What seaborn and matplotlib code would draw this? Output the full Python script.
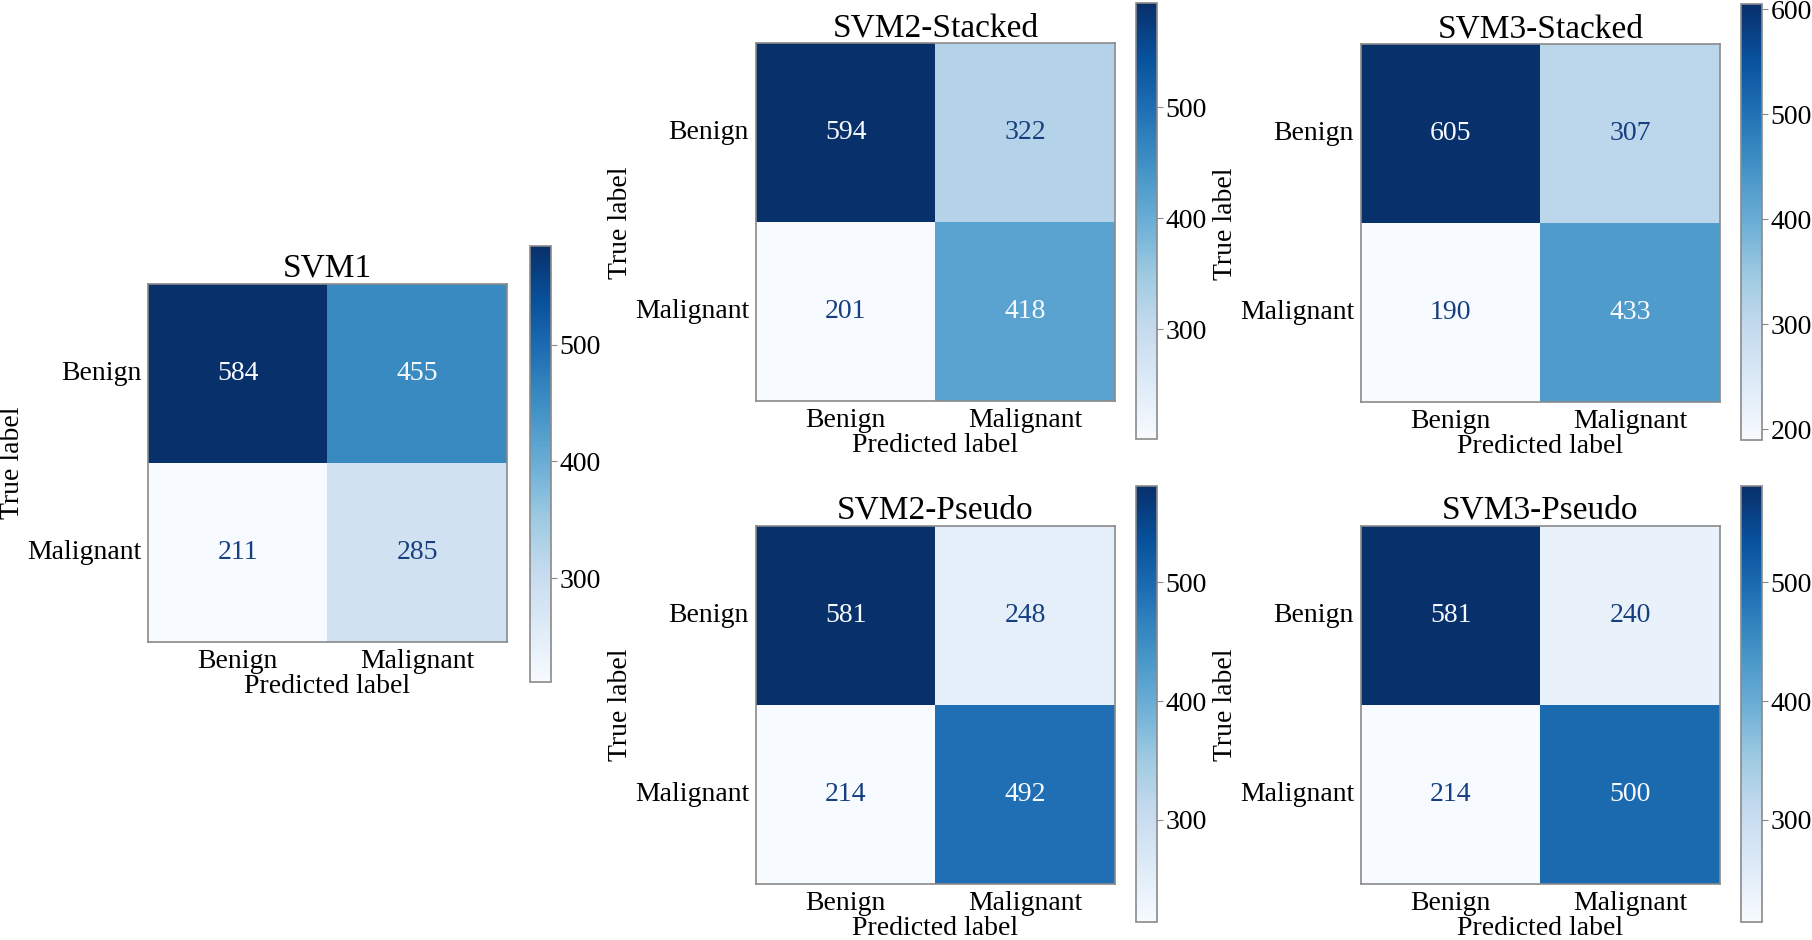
import numpy as np
import matplotlib
matplotlib.use("Agg")
import matplotlib.pyplot as plt
import seaborn as sns

# Confusion matrices (rows = true label, cols = predicted label)
labels = ["Benign", "Malignant"]
titles = ["SVM1", "SVM2-Stacked", "SVM3-Stacked", "SVM2-Pseudo", "SVM3-Pseudo"]
svm1 = [[584, 455], [211, 285]]
svm2_stacked = [[594, 322], [201, 418]]
svm3_stacked = [[605, 307], [190, 433]]
svm2_pseudo = [[581, 248], [214, 492]]
svm3_pseudo = [[581, 240], [214, 500]]
matrices = [svm1, svm2_stacked, svm3_stacked, svm2_pseudo, svm3_pseudo]

sns.set_style("white")
plt.rcParams['font.family'] = ['Liberation Serif', 'DejaVu Serif']
plt.rcParams['text.color'] = 'black'
plt.rcParams['axes.labelcolor'] = 'black'
plt.rcParams['xtick.labelcolor'] = 'black'
plt.rcParams['ytick.labelcolor'] = 'black'

fig = plt.figure(figsize=(18.12, 9.40), dpi=100)

# axes / colorbar boxes in figure fractions
W, H = 0.198, 0.381
CW, CH = 0.0116, 0.464
boxes = [
    ((0.0817, 0.317), (0.2925, 0.274)),
    ((0.4172, 0.573), (0.6270, 0.533)),
    ((0.7511, 0.572), (0.9608, 0.532)),
    ((0.4172, 0.0596), (0.6270, 0.019)),
    ((0.7511, 0.0596), (0.9608, 0.019)),
]

cmap = plt.get_cmap("Blues")
edge = "#8a8a8a"

for title, mat, (axpos, cpos) in zip(titles, matrices, boxes):
    data = np.array(mat)
    ax = fig.add_axes([axpos[0], axpos[1], W, H])
    cax = fig.add_axes([cpos[0], cpos[1], CW, CH])
    sns.heatmap(data, ax=ax, cbar_ax=cax, cmap="Blues", annot=True, fmt="d",
                annot_kws={"fontsize": 20}, xticklabels=labels, yticklabels=labels,
                vmin=data.min(), vmax=data.max())
    # sklearn-style text colours
    thresh = (data.max() + data.min()) / 2.0
    for t, v in zip(ax.texts, data.flatten()):
        t.set_color(cmap(0.0) if v >= thresh else "#173f80")
    ax.set_title(title, fontsize=24, pad=5, color="black")
    ax.set_xlabel("Predicted label", fontsize=20, labelpad=0, color="black")
    ax.set_ylabel("True label", fontsize=20, labelpad=1, color="black")
    ax.tick_params(axis="both", labelsize=20, length=4, color=edge, pad=1,
                   labelcolor="black")
    ax.set_yticklabels(labels, rotation=0)
    ax.set_xticklabels(labels, rotation=0)
    for s in ax.spines.values():
        s.set_visible(True)
        s.set_color(edge)
        s.set_linewidth(1.2)
    cax.tick_params(labelsize=20, length=4, color=edge, pad=2, labelcolor="black")
    cax.yaxis.set_major_locator(matplotlib.ticker.MultipleLocator(100))
    cax.set_ylim(data.min(), data.max())
    cb = ax.collections[0].colorbar
    cb.outline.set_visible(True)
    cb.outline.set_edgecolor(edge)
    cb.outline.set_linewidth(1.2)

fig.savefig("out.png", dpi=100)
